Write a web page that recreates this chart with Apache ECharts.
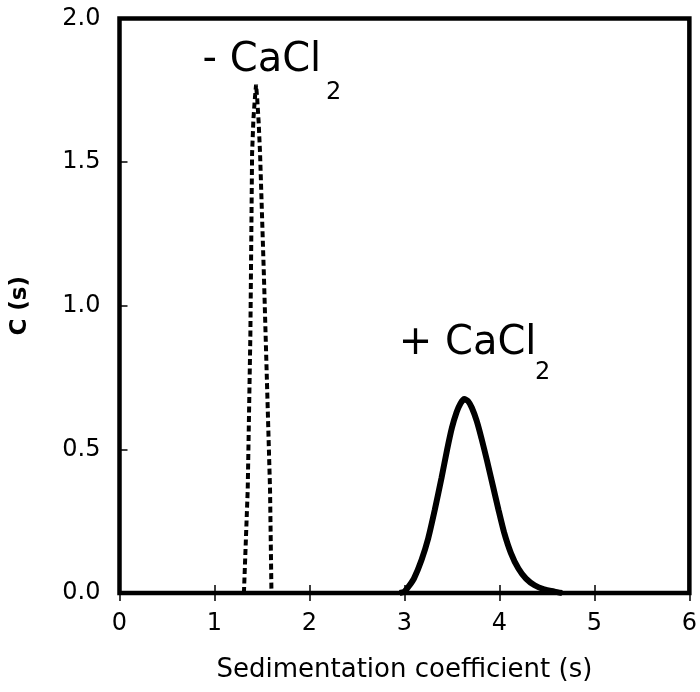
<!DOCTYPE html>
<html>
<head>
<meta charset="utf-8">
<script src="https://cdn.jsdelivr.net/npm/echarts@6/dist/echarts.min.js"></script>
<style>
  html, body { margin: 0; padding: 0; background: #fff; }
  #chart { width: 700px; height: 692px; }
</style>
</head>
<body>
<div id="chart"></div>
<script>
// ---- data ----
// "- CaCl2" (dashed) : sedimentation coefficient (s) vs C(s)
const minusX = [1.31, 1.33, 1.35, 1.378, 1.396, 1.41, 1.425, 1.438, 1.45, 1.465, 1.48, 1.52, 1.585, 1.60, 1.62];
const minusY = [0.00, 0.00, 0.36, 0.90, 1.53, 1.65, 1.72, 1.77, 1.72, 1.64, 1.53, 1.11, 0.36, 0.00, 0.00];
// "+ CaCl2" (solid)
const plusX = [2.95, 3.00, 3.05, 3.10, 3.18, 3.25, 3.32, 3.39, 3.45, 3.50, 3.55, 3.59, 3.63, 3.67, 3.71, 3.76, 3.81, 3.87, 3.93, 3.99, 4.05, 4.12, 4.20, 4.28, 4.37, 4.47, 4.58, 4.66];
const plusY = [0.00, 0.005, 0.025, 0.05, 0.115, 0.19, 0.29, 0.40, 0.50, 0.575, 0.63, 0.66, 0.675, 0.668, 0.645, 0.60, 0.54, 0.46, 0.375, 0.29, 0.21, 0.14, 0.085, 0.05, 0.027, 0.013, 0.005, 0.00];
// labels
const seriesNames = ['- CaCl', '+ CaCl'];
const subscript = '2';
const xTitle = 'Sedimentation coefficient (s)';
const yTitle = 'C (s)';

const FONT = 'DejaVu Sans';
const pairs = (xs, ys) => xs.map((x, i) => [x, ys[i]]);

function annot(coordMain, coordSub, text) {
  const base = { symbolSize: 0, symbol: 'circle' };
  return [
    Object.assign({}, base, { coord: coordMain, label: { show: true, formatter: text, position: [0, 0], align: 'left', verticalAlign: 'middle', fontSize: 40, fontFamily: FONT, color: '#000' } }),
    Object.assign({}, base, { coord: coordSub, label: { show: true, formatter: subscript, position: [0, 0], align: 'left', verticalAlign: 'middle', fontSize: 24, fontFamily: FONT, color: '#000' } })
  ];
}

const chart = echarts.init(document.getElementById('chart'), null, { renderer: 'canvas' });
const axisCommon = {
  type: 'value', min: 0, max: 6, interval: 1, position: 'bottom',
  axisLine: { show: false }, splitLine: { show: false }
};
chart.setOption({
  animation: false,
  backgroundColor: '#fff',
  grid: { left: 119.5, right: 8, top: 18.5, bottom: 99, show: true, borderWidth: 4.5, borderColor: '#000', backgroundColor: 'transparent' },
  xAxis: [
    Object.assign({}, axisCommon, {
      name: xTitle, nameLocation: 'middle', nameGap: 64,
      nameTextStyle: { fontSize: 26, fontFamily: FONT, color: '#000' },
      axisTick: { show: true, inside: false, length: 8, lineStyle: { color: '#000', width: 1.5 } },
      axisLabel: { show: true, margin: 19, fontSize: 24, fontFamily: FONT, color: '#000' }
    }),
    Object.assign({}, axisCommon, {
      axisTick: { show: true, inside: true, length: 8, lineStyle: { color: '#000', width: 1.5 } },
      axisLabel: { show: false }
    })
  ],
  yAxis: {
    type: 'value', min: 0, max: 2, interval: 0.5,
    name: yTitle, nameLocation: 'middle', nameGap: 88, nameRotate: 90,
    nameTextStyle: { fontSize: 23, fontWeight: 'bold', fontFamily: FONT, color: '#000' },
    axisLine: { show: false }, splitLine: { show: false },
    axisTick: { show: true, inside: true, length: 8, lineStyle: { color: '#000', width: 1.5 } },
    axisLabel: { show: true, margin: 19, fontSize: 24, fontFamily: FONT, color: '#000',
      padding: [0, 0, 8, 0], formatter: v => v.toFixed(1) }
  },
  series: [
    {
      name: seriesNames[0], type: 'line', xAxisIndex: 0, data: pairs(minusX, minusY),
      showSymbol: false, smooth: false,
      lineStyle: { color: '#000', width: 4, type: [6, 3.5] },
      markPoint: { silent: true, data: annot([0.875, 1.854], [2.175, 1.74], seriesNames[0]) }
    },
    {
      name: seriesNames[1], type: 'line', xAxisIndex: 0, data: pairs(plusX, plusY),
      showSymbol: false, smooth: 0.2,
      lineStyle: { color: '#000', width: 6 },
      markPoint: { silent: true, data: annot([2.94, 0.868], [4.376, 0.765], seriesNames[1]) }
    }
  ]
});
</script>
</body>
</html>
